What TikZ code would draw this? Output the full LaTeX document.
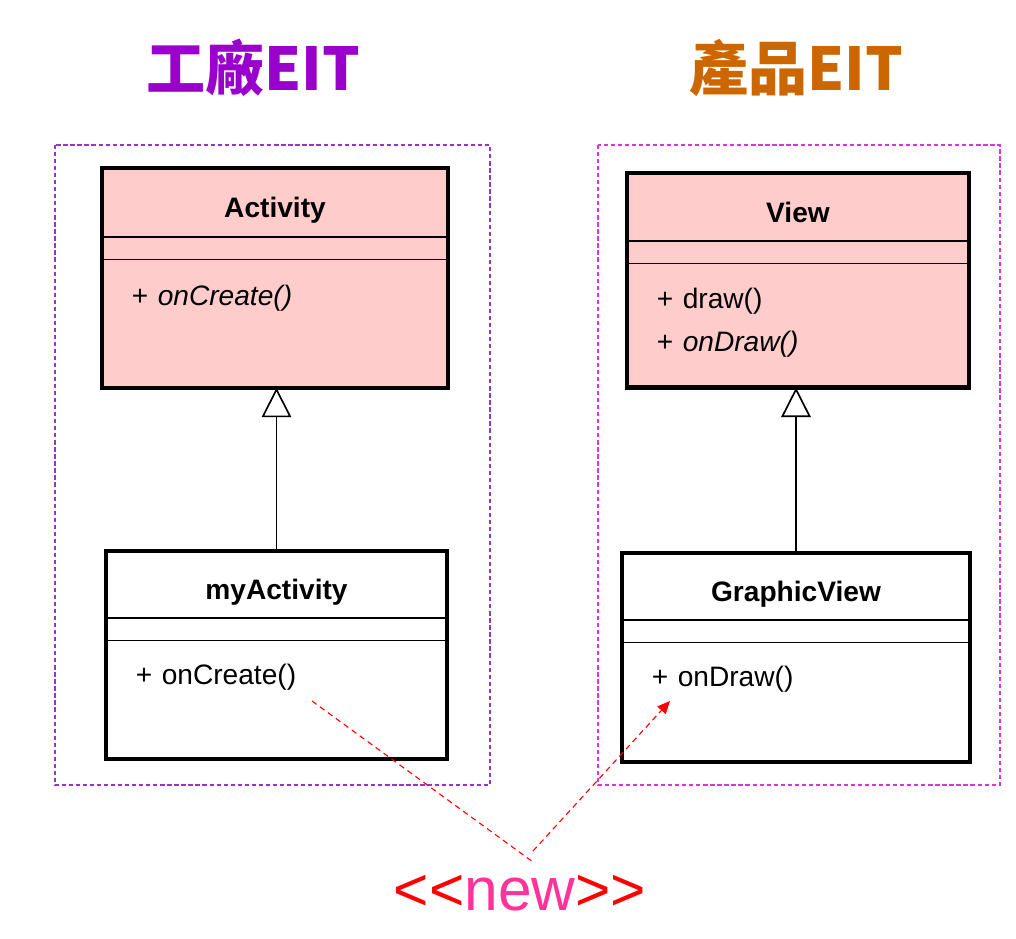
\documentclass[tikz,border=0pt]{standalone}
\usepackage{fontspec}
\setmainfont{Liberation Sans}
\newfontfamily\cjk{Noto Sans CJK TC}
\usetikzlibrary{shapes.multipart,arrows.meta}
\definecolor{factorypurple}{HTML}{9900CC}
\definecolor{productorange}{HTML}{CC6600}
\definecolor{framepurple}{HTML}{9933CC}
\definecolor{framemagenta}{HTML}{DD33DD}
\definecolor{classpink}{HTML}{FFCCCC}
\definecolor{newred}{HTML}{FF0000}
\definecolor{newpink}{HTML}{FF3399}
\tikzset{
    umlclass/.style={rectangle split, rectangle split parts=3, draw, line width=1pt, fill=white,
        inner xsep=0.725cm, inner ysep=0pt, anchor=north, align=left,
        font=\fontsize{20pt}{30.5pt}\selectfont},
    classedge/.style={line width=3pt},
    inherit/.style={line width=1.2pt, -{Triangle[open, length=21pt, width=21pt]}},
    package/.style={line width=0.9pt, dash pattern=on 3pt off 2pt},
    newlink/.style={newred, line width=0.8pt, dash pattern=on 4pt off 3pt},
    eittitle/.style={font=\cjk\bfseries\fontsize{42pt}{42pt}\selectfont, anchor=base}
}

\begin{document}
\begin{tikzpicture}[x=0.025cm, y=-0.025cm]
    \useasboundingbox (0,0) rectangle (1016,938);
    \node[eittitle, text=factorypurple] (factory) at (253,91) {工廠EIT};
    \node[eittitle, text=productorange] (product) at (796,91) {產品EIT};
    \draw[package, framepurple] (55,145) rectangle (490,785);
    \draw[package, framemagenta] (598,145) rectangle (1000,785);
    \node[umlclass, fill=classpink, text width=7.15cm] (Activity) at (275,168) {\makebox[\linewidth]{\textbf{Activity}}\rule[-0.475cm]{0pt}{1.675cm}
        \nodepart{second}\rule{0pt}{0.525cm}
        \nodepart{third}+ \textit{onCreate()}\rule[-2.025cm]{0pt}{3.15cm}};
    \node[umlclass, fill=classpink, text width=7.05cm] (View) at (798,173) {\makebox[\linewidth]{\textbf{View}}\rule[-0.45cm]{0pt}{1.65cm}
        \nodepart{second}\rule{0pt}{0.525cm}
        \nodepart{third}+ draw()\rule{0pt}{1.1cm}\\
        + \textit{onDraw()}\rule[-0.875cm]{0pt}{0.875cm}};
    \node[umlclass, text width=7.025cm] (myActivity) at (276.5,551) {\makebox[\linewidth]{\textbf{myActivity}}\rule[-0.45cm]{0pt}{1.625cm}
        \nodepart{second}\rule{0pt}{0.525cm}
        \nodepart{third}+ onCreate()\rule[-1.825cm]{0pt}{2.9cm}};
    \node[umlclass, text width=7.2cm] (GraphicView) at (796,553) {\makebox[\linewidth]{\textbf{GraphicView}}\rule[-0.45cm]{0pt}{1.625cm}
        \nodepart{second}\rule{0pt}{0.525cm}
        \nodepart{third}+ onDraw()\rule[-1.85cm]{0pt}{2.925cm}};
    \foreach \cls in {Activity, View, myActivity, GraphicView}
        \draw[classedge] (\cls.north west) rectangle (\cls.south east);
    \draw[inherit] (myActivity.north) -- (myActivity.north |- Activity.south);
    \draw[inherit] (GraphicView.north) -- (GraphicView.north |- View.south);
    \node[font=\fontsize{43pt}{43pt}\selectfont, anchor=base] (newlabel) at (520,910) {\textcolor{newred}{<{}<}\textcolor{newpink}{new}\textcolor{newred}{>{}>}};
    \coordinate (createcall) at (312,701);
    \coordinate (newleft) at (533,862);
    \coordinate (newright) at (533,851);
    \coordinate (drawcall) at (670,701);
    \draw[newlink] (createcall) -- (newleft);
    \draw[newlink, -{Triangle[length=9pt, width=8pt]}] (newright) -- (drawcall);
\end{tikzpicture}
\end{document}
